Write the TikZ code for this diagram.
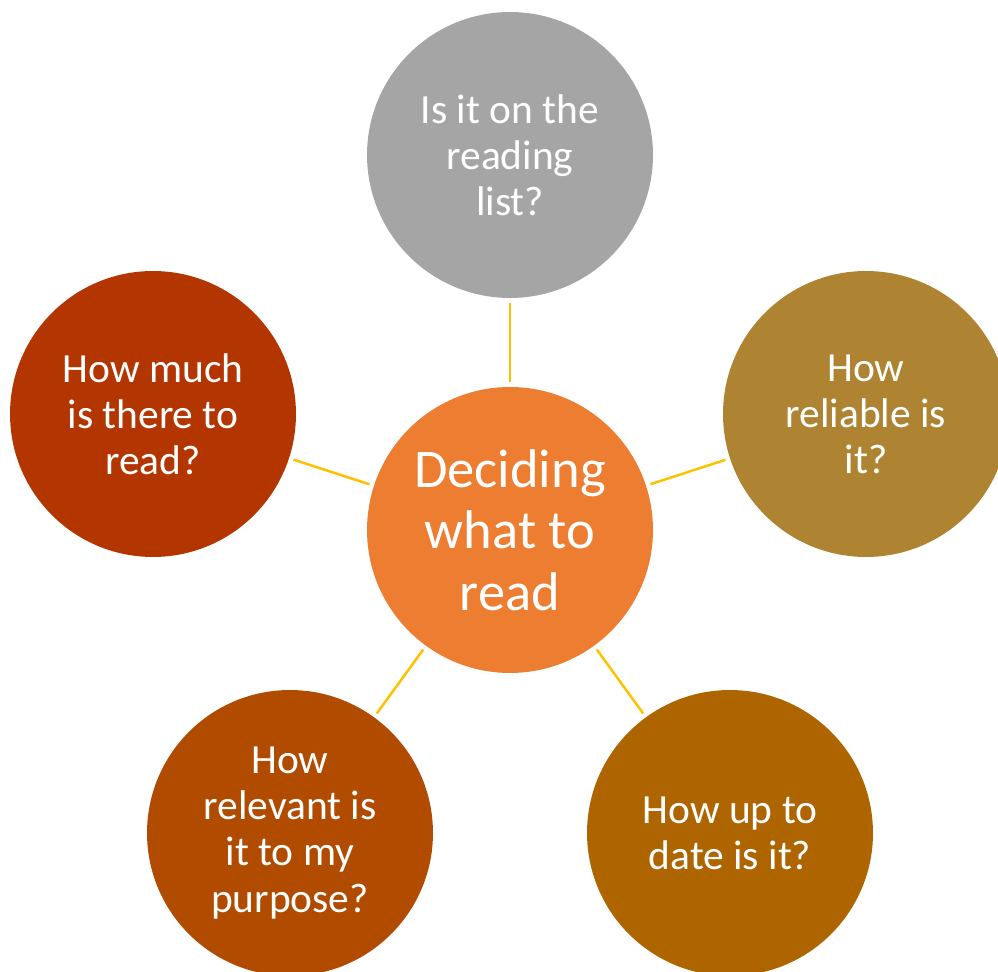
\documentclass[tikz,border=0pt]{standalone}
\usepackage{fontspec}
\setmainfont{Carlito}
\usepackage{xcolor}
\usepackage{tikz}
\usetikzlibrary{positioning}

\definecolor{hubcol}{HTML}{ED7D31}
\definecolor{listcol}{HTML}{A5A5A5}
\definecolor{reliablecol}{HTML}{AE8332}
\definecolor{muchcol}{HTML}{B33500}
\definecolor{relevantcol}{HTML}{B04B00}
\definecolor{datecol}{HTML}{AE6500}
\definecolor{linkcol}{HTML}{FFC000}

\begin{document}
\begin{tikzpicture}[
    x=0.02cm,
    y=-0.02cm,
    every node/.style={
        circle,
        inner sep=0pt,
        minimum size=5.72cm,
        text=white,
        align=center
    },
    topic/.style={font=\fontsize{23.6}{26.2}\selectfont},
    hub/.style={fill=hubcol,font=\fontsize{31}{35}\selectfont},
    link/.style={draw=linkcol,line width=1.4pt,shorten >=2.5pt,shorten <=2.5pt}
]
\useasboundingbox (0,0) rectangle (998,972);
\node[hub] (hub) at (510,530) {Deciding\\what to\\read};
\node[topic,fill=listcol] (list) at (510,155) {Is it on the\\reading\\list?};
\node[topic,fill=reliablecol] (reliable) at (866,414) {How\\reliable is\\it?};
\node[topic,fill=muchcol] (much) at (153,414) {How much\\is there to\\read?};
\node[topic,fill=relevantcol] (relevant) at (290,833) {How\\relevant is\\it to my\\purpose?};
\node[topic,fill=datecol] (date) at (730,833) {How up to\\date is it?};
% spokes
\foreach \t in {list,reliable,much,relevant,date}
  \draw[link] (hub) -- (\t);
\end{tikzpicture}
\end{document}
